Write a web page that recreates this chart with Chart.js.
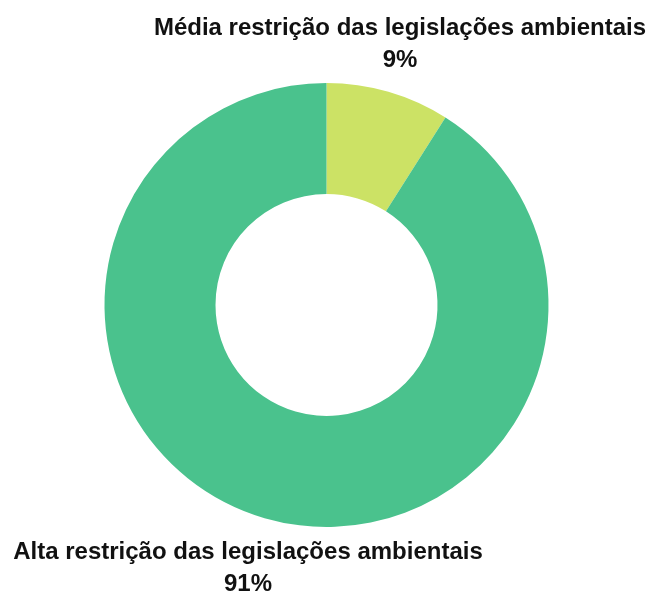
<!DOCTYPE html>
<html>
<head>
<meta charset="utf-8">
<script src="https://cdn.jsdelivr.net/npm/chart.js@4/dist/chart.umd.min.js"></script>
<style>
  html, body { margin: 0; padding: 0; background: #fff; }
  #wrap { width: 653px; height: 595px; }
</style>
</head>
<body>
<div id="wrap"><canvas id="donut"></canvas></div>
<script>
const categories = ['Média restrição das legislações ambientais', 'Alta restrição das legislações ambientais'];
const values = [9, 91];
const colors = ['#cce265', '#4ac28d'];

// rótulos desenhados fora do anel
const labelPlugin = {
    id: 'outerLabels',
    afterDraw(chart) {
        const ctx = chart.ctx;
        ctx.save();
        ctx.fillStyle = '#111';
        ctx.font = 'bold 24px "Liberation Sans", Arial, sans-serif';
        ctx.textAlign = 'center';
        ctx.textBaseline = 'middle';
        const spots = [[400, 28], [248, 552]];
        categories.forEach((name, i) => {
            const [x, y] = spots[i];
            ctx.fillText(name, x, y);
            ctx.fillText(values[i] + '%', x, y + 32);
        });
        ctx.restore();
    }
};

new Chart(document.getElementById('donut'), {
    type: 'doughnut',
    data: {
        labels: categories,
        datasets: [{
            data: values,
            backgroundColor: colors,
            borderWidth: 0
        }]
    },
    options: {
        responsive: true,
        maintainAspectRatio: false,
        animation: false,
        cutout: '50%',
        layout: { padding: { top: 83, bottom: 68 } },
        plugins: {
            legend: { display: false },
            tooltip: { enabled: false }
        }
    },
    plugins: [labelPlugin]
});
</script>
</body>
</html>
